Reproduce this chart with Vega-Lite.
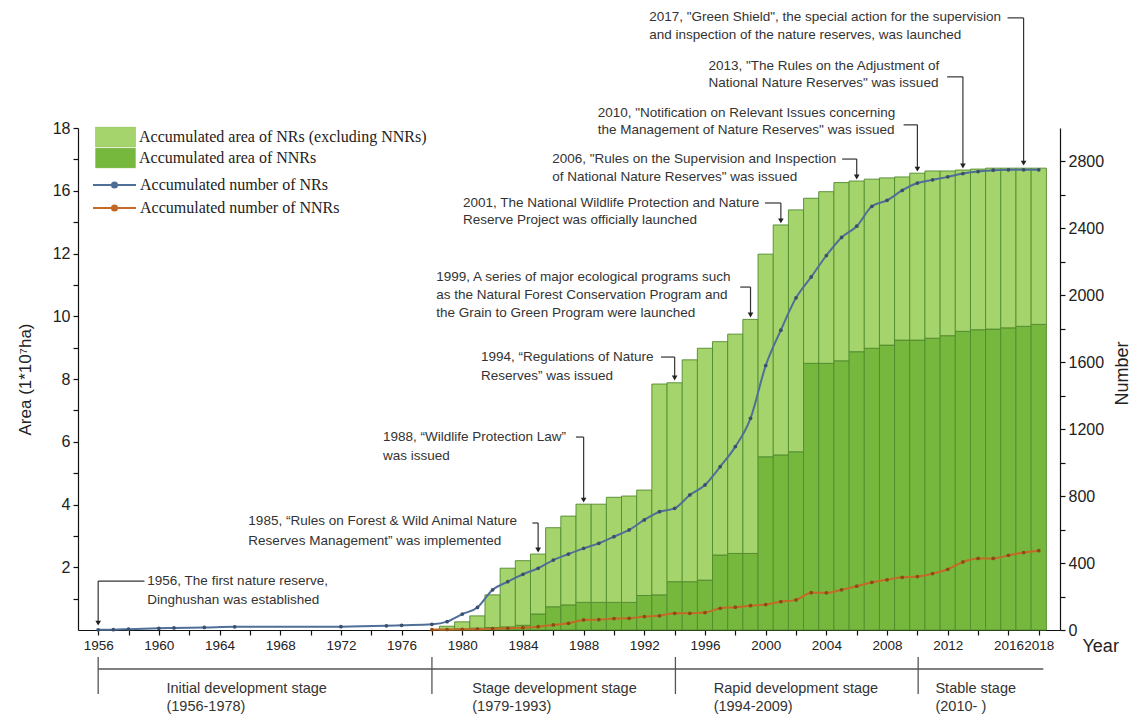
{
  "$schema": "https://vega.github.io/schema/vega-lite/v6.json",
  "width": 982,
  "height": 502,
  "autosize": {"type": "none"},
  "padding": {"left": 78, "top": 128, "right": 84, "bottom": 86},
  "background": "white",
  "config": {
    "view": {"stroke": null},
    "font": "Liberation Sans",
    "axis": {"grid": false, "domainColor": "#111", "tickColor": "#111", "labelColor": "#222", "titleColor": "#222", "labelFont": "Liberation Sans", "titleFont": "Liberation Sans", "titleFontWeight": "normal", "domainWidth": 1.2, "tickWidth": 1.2}
  },
  "datasets": {
    "area": [
      {"year": 1979, "series": "Accumulated area of NNRs", "area": 0.02}, {"year": 1979, "series": "Accumulated area of NRs (excluding NNRs)", "area": 0.10},
      {"year": 1980, "series": "Accumulated area of NNRs", "area": 0.04}, {"year": 1980, "series": "Accumulated area of NRs (excluding NNRs)", "area": 0.22},
      {"year": 1981, "series": "Accumulated area of NNRs", "area": 0.06}, {"year": 1981, "series": "Accumulated area of NRs (excluding NNRs)", "area": 0.39},
      {"year": 1982, "series": "Accumulated area of NNRs", "area": 0.08}, {"year": 1982, "series": "Accumulated area of NRs (excluding NNRs)", "area": 1.04},
      {"year": 1983, "series": "Accumulated area of NNRs", "area": 0.10}, {"year": 1983, "series": "Accumulated area of NRs (excluding NNRs)", "area": 1.87},
      {"year": 1984, "series": "Accumulated area of NNRs", "area": 0.15}, {"year": 1984, "series": "Accumulated area of NRs (excluding NNRs)", "area": 2.06},
      {"year": 1985, "series": "Accumulated area of NNRs", "area": 0.51}, {"year": 1985, "series": "Accumulated area of NRs (excluding NNRs)", "area": 1.91},
      {"year": 1986, "series": "Accumulated area of NNRs", "area": 0.74}, {"year": 1986, "series": "Accumulated area of NRs (excluding NNRs)", "area": 2.52},
      {"year": 1987, "series": "Accumulated area of NNRs", "area": 0.80}, {"year": 1987, "series": "Accumulated area of NRs (excluding NNRs)", "area": 2.83},
      {"year": 1988, "series": "Accumulated area of NNRs", "area": 0.88}, {"year": 1988, "series": "Accumulated area of NRs (excluding NNRs)", "area": 3.13},
      {"year": 1989, "series": "Accumulated area of NNRs", "area": 0.88}, {"year": 1989, "series": "Accumulated area of NRs (excluding NNRs)", "area": 3.13},
      {"year": 1990, "series": "Accumulated area of NNRs", "area": 0.88}, {"year": 1990, "series": "Accumulated area of NRs (excluding NNRs)", "area": 3.35},
      {"year": 1991, "series": "Accumulated area of NNRs", "area": 0.88}, {"year": 1991, "series": "Accumulated area of NRs (excluding NNRs)", "area": 3.39},
      {"year": 1992, "series": "Accumulated area of NNRs", "area": 1.10}, {"year": 1992, "series": "Accumulated area of NRs (excluding NNRs)", "area": 3.36},
      {"year": 1993, "series": "Accumulated area of NNRs", "area": 1.12}, {"year": 1993, "series": "Accumulated area of NRs (excluding NNRs)", "area": 6.72},
      {"year": 1994, "series": "Accumulated area of NNRs", "area": 1.54}, {"year": 1994, "series": "Accumulated area of NRs (excluding NNRs)", "area": 6.34},
      {"year": 1995, "series": "Accumulated area of NNRs", "area": 1.54}, {"year": 1995, "series": "Accumulated area of NRs (excluding NNRs)", "area": 7.07},
      {"year": 1996, "series": "Accumulated area of NNRs", "area": 1.59}, {"year": 1996, "series": "Accumulated area of NRs (excluding NNRs)", "area": 7.39},
      {"year": 1997, "series": "Accumulated area of NNRs", "area": 2.39}, {"year": 1997, "series": "Accumulated area of NRs (excluding NNRs)", "area": 6.80},
      {"year": 1998, "series": "Accumulated area of NNRs", "area": 2.44}, {"year": 1998, "series": "Accumulated area of NRs (excluding NNRs)", "area": 6.99},
      {"year": 1999, "series": "Accumulated area of NNRs", "area": 2.44}, {"year": 1999, "series": "Accumulated area of NRs (excluding NNRs)", "area": 7.46},
      {"year": 2000, "series": "Accumulated area of NNRs", "area": 5.52}, {"year": 2000, "series": "Accumulated area of NRs (excluding NNRs)", "area": 6.46},
      {"year": 2001, "series": "Accumulated area of NNRs", "area": 5.58}, {"year": 2001, "series": "Accumulated area of NRs (excluding NNRs)", "area": 7.33},
      {"year": 2002, "series": "Accumulated area of NNRs", "area": 5.68}, {"year": 2002, "series": "Accumulated area of NRs (excluding NNRs)", "area": 7.71},
      {"year": 2003, "series": "Accumulated area of NNRs", "area": 8.50}, {"year": 2003, "series": "Accumulated area of NRs (excluding NNRs)", "area": 5.26},
      {"year": 2004, "series": "Accumulated area of NNRs", "area": 8.50}, {"year": 2004, "series": "Accumulated area of NRs (excluding NNRs)", "area": 5.47},
      {"year": 2005, "series": "Accumulated area of NNRs", "area": 8.58}, {"year": 2005, "series": "Accumulated area of NRs (excluding NNRs)", "area": 5.68},
      {"year": 2006, "series": "Accumulated area of NNRs", "area": 8.87}, {"year": 2006, "series": "Accumulated area of NRs (excluding NNRs)", "area": 5.44},
      {"year": 2007, "series": "Accumulated area of NNRs", "area": 8.98}, {"year": 2007, "series": "Accumulated area of NRs (excluding NNRs)", "area": 5.39},
      {"year": 2008, "series": "Accumulated area of NNRs", "area": 9.08}, {"year": 2008, "series": "Accumulated area of NRs (excluding NNRs)", "area": 5.33},
      {"year": 2009, "series": "Accumulated area of NNRs", "area": 9.24}, {"year": 2009, "series": "Accumulated area of NRs (excluding NNRs)", "area": 5.20},
      {"year": 2010, "series": "Accumulated area of NNRs", "area": 9.24}, {"year": 2010, "series": "Accumulated area of NRs (excluding NNRs)", "area": 5.32},
      {"year": 2011, "series": "Accumulated area of NNRs", "area": 9.30}, {"year": 2011, "series": "Accumulated area of NRs (excluding NNRs)", "area": 5.33},
      {"year": 2012, "series": "Accumulated area of NNRs", "area": 9.38}, {"year": 2012, "series": "Accumulated area of NRs (excluding NNRs)", "area": 5.25},
      {"year": 2013, "series": "Accumulated area of NNRs", "area": 9.52}, {"year": 2013, "series": "Accumulated area of NRs (excluding NNRs)", "area": 5.14},
      {"year": 2014, "series": "Accumulated area of NNRs", "area": 9.57}, {"year": 2014, "series": "Accumulated area of NRs (excluding NNRs)", "area": 5.12},
      {"year": 2015, "series": "Accumulated area of NNRs", "area": 9.59}, {"year": 2015, "series": "Accumulated area of NRs (excluding NNRs)", "area": 5.13},
      {"year": 2016, "series": "Accumulated area of NNRs", "area": 9.63}, {"year": 2016, "series": "Accumulated area of NRs (excluding NNRs)", "area": 5.09},
      {"year": 2017, "series": "Accumulated area of NNRs", "area": 9.68}, {"year": 2017, "series": "Accumulated area of NRs (excluding NNRs)", "area": 5.04},
      {"year": 2018, "series": "Accumulated area of NNRs", "area": 9.74}, {"year": 2018, "series": "Accumulated area of NRs (excluding NNRs)", "area": 4.98}
    ],
    "count": [
      {"year": 1956, "series": "Accumulated number of NRs", "number": 1},
      {"year": 1957, "series": "Accumulated number of NRs", "number": 2},
      {"year": 1958, "series": "Accumulated number of NRs", "number": 5},
      {"year": 1960, "series": "Accumulated number of NRs", "number": 10},
      {"year": 1961, "series": "Accumulated number of NRs", "number": 12},
      {"year": 1963, "series": "Accumulated number of NRs", "number": 15},
      {"year": 1965, "series": "Accumulated number of NRs", "number": 19},
      {"year": 1972, "series": "Accumulated number of NRs", "number": 20},
      {"year": 1975, "series": "Accumulated number of NRs", "number": 25},
      {"year": 1976, "series": "Accumulated number of NRs", "number": 28},
      {"year": 1978, "series": "Accumulated number of NRs", "number": 34},
      {"year": 1979, "series": "Accumulated number of NRs", "number": 50},
      {"year": 1980, "series": "Accumulated number of NRs", "number": 95},
      {"year": 1981, "series": "Accumulated number of NRs", "number": 135},
      {"year": 1982, "series": "Accumulated number of NRs", "number": 240},
      {"year": 1983, "series": "Accumulated number of NRs", "number": 289},
      {"year": 1984, "series": "Accumulated number of NRs", "number": 333},
      {"year": 1985, "series": "Accumulated number of NRs", "number": 369},
      {"year": 1986, "series": "Accumulated number of NRs", "number": 418},
      {"year": 1987, "series": "Accumulated number of NRs", "number": 454},
      {"year": 1988, "series": "Accumulated number of NRs", "number": 488},
      {"year": 1989, "series": "Accumulated number of NRs", "number": 518},
      {"year": 1990, "series": "Accumulated number of NRs", "number": 558},
      {"year": 1991, "series": "Accumulated number of NRs", "number": 598},
      {"year": 1992, "series": "Accumulated number of NRs", "number": 658},
      {"year": 1993, "series": "Accumulated number of NRs", "number": 707},
      {"year": 1994, "series": "Accumulated number of NRs", "number": 727},
      {"year": 1995, "series": "Accumulated number of NRs", "number": 807},
      {"year": 1996, "series": "Accumulated number of NRs", "number": 867},
      {"year": 1997, "series": "Accumulated number of NRs", "number": 976},
      {"year": 1998, "series": "Accumulated number of NRs", "number": 1096},
      {"year": 1999, "series": "Accumulated number of NRs", "number": 1265},
      {"year": 2000, "series": "Accumulated number of NRs", "number": 1580},
      {"year": 2001, "series": "Accumulated number of NRs", "number": 1792},
      {"year": 2002, "series": "Accumulated number of NRs", "number": 1985},
      {"year": 2003, "series": "Accumulated number of NRs", "number": 2110},
      {"year": 2004, "series": "Accumulated number of NRs", "number": 2238},
      {"year": 2005, "series": "Accumulated number of NRs", "number": 2346},
      {"year": 2006, "series": "Accumulated number of NRs", "number": 2413},
      {"year": 2007, "series": "Accumulated number of NRs", "number": 2532},
      {"year": 2008, "series": "Accumulated number of NRs", "number": 2568},
      {"year": 2009, "series": "Accumulated number of NRs", "number": 2627},
      {"year": 2010, "series": "Accumulated number of NRs", "number": 2671},
      {"year": 2011, "series": "Accumulated number of NRs", "number": 2690},
      {"year": 2012, "series": "Accumulated number of NRs", "number": 2708},
      {"year": 2013, "series": "Accumulated number of NRs", "number": 2728},
      {"year": 2014, "series": "Accumulated number of NRs", "number": 2740},
      {"year": 2015, "series": "Accumulated number of NRs", "number": 2748},
      {"year": 2016, "series": "Accumulated number of NRs", "number": 2750},
      {"year": 2017, "series": "Accumulated number of NRs", "number": 2750},
      {"year": 2018, "series": "Accumulated number of NRs", "number": 2750},
      {"year": 1978, "series": "Accumulated number of NNRs", "number": 2},
      {"year": 1979, "series": "Accumulated number of NNRs", "number": 3},
      {"year": 1980, "series": "Accumulated number of NNRs", "number": 4},
      {"year": 1981, "series": "Accumulated number of NNRs", "number": 5},
      {"year": 1982, "series": "Accumulated number of NNRs", "number": 8},
      {"year": 1983, "series": "Accumulated number of NNRs", "number": 10},
      {"year": 1984, "series": "Accumulated number of NNRs", "number": 14},
      {"year": 1985, "series": "Accumulated number of NNRs", "number": 20},
      {"year": 1986, "series": "Accumulated number of NNRs", "number": 30},
      {"year": 1987, "series": "Accumulated number of NNRs", "number": 40},
      {"year": 1988, "series": "Accumulated number of NNRs", "number": 60},
      {"year": 1989, "series": "Accumulated number of NNRs", "number": 62},
      {"year": 1990, "series": "Accumulated number of NNRs", "number": 68},
      {"year": 1991, "series": "Accumulated number of NNRs", "number": 70},
      {"year": 1992, "series": "Accumulated number of NNRs", "number": 80},
      {"year": 1993, "series": "Accumulated number of NNRs", "number": 85},
      {"year": 1994, "series": "Accumulated number of NNRs", "number": 100},
      {"year": 1995, "series": "Accumulated number of NNRs", "number": 100},
      {"year": 1996, "series": "Accumulated number of NNRs", "number": 104},
      {"year": 1997, "series": "Accumulated number of NNRs", "number": 130},
      {"year": 1998, "series": "Accumulated number of NNRs", "number": 136},
      {"year": 1999, "series": "Accumulated number of NNRs", "number": 145},
      {"year": 2000, "series": "Accumulated number of NNRs", "number": 152},
      {"year": 2001, "series": "Accumulated number of NNRs", "number": 169},
      {"year": 2002, "series": "Accumulated number of NNRs", "number": 180},
      {"year": 2003, "series": "Accumulated number of NNRs", "number": 223},
      {"year": 2004, "series": "Accumulated number of NNRs", "number": 222},
      {"year": 2005, "series": "Accumulated number of NNRs", "number": 240},
      {"year": 2006, "series": "Accumulated number of NNRs", "number": 262},
      {"year": 2007, "series": "Accumulated number of NNRs", "number": 285},
      {"year": 2008, "series": "Accumulated number of NNRs", "number": 300},
      {"year": 2009, "series": "Accumulated number of NNRs", "number": 315},
      {"year": 2010, "series": "Accumulated number of NNRs", "number": 319},
      {"year": 2011, "series": "Accumulated number of NNRs", "number": 337},
      {"year": 2012, "series": "Accumulated number of NNRs", "number": 363},
      {"year": 2013, "series": "Accumulated number of NNRs", "number": 407},
      {"year": 2014, "series": "Accumulated number of NNRs", "number": 428},
      {"year": 2015, "series": "Accumulated number of NNRs", "number": 428},
      {"year": 2016, "series": "Accumulated number of NNRs", "number": 446},
      {"year": 2017, "series": "Accumulated number of NNRs", "number": 463},
      {"year": 2018, "series": "Accumulated number of NNRs", "number": 474}
    ],
    "events": [
      {"year": 1956, "xs": 1959.05, "yb": 1.56, "yt": 0.22},
      {"year": 1985, "xs": 1984.62, "yb": 3.41, "yt": 2.55},
      {"year": 1988, "xs": 1987.49, "yb": 6.15, "yt": 4.14},
      {"year": 1994, "xs": 1993.1, "yb": 8.70, "yt": 8.03},
      {"year": 1999, "xs": 1998.32, "yb": 10.93, "yt": 10.04},
      {"year": 2001, "xs": 1999.95, "yb": 13.61, "yt": 13.04},
      {"year": 2006, "xs": 2005.04, "yb": 15.01, "yt": 14.44},
      {"year": 2010, "xs": 2009.09, "yb": 16.10, "yt": 14.69},
      {"year": 2013, "xs": 2011.96, "yb": 17.63, "yt": 14.79},
      {"year": 2017, "xs": 2015.94, "yb": 19.51, "yt": 14.88}
    ],
    "notes": [
      {"x": 1959.24, "y": 1.56, "text": "1956, The first nature reserve,"},
      {"x": 1959.24, "y": 0.96, "text": "Dinghushan was established"},
      {"x": 1965.9, "y": 3.47, "text": "1985, “Rules on Forest & Wild Animal Nature"},
      {"x": 1965.9, "y": 2.84, "text": "Reserves Management” was implemented"},
      {"x": 1974.77, "y": 6.15, "text": "1988, “Wildlife Protection Law”"},
      {"x": 1974.77, "y": 5.55, "text": "was issued"},
      {"x": 1981.23, "y": 8.70, "text": "1994, “Regulations of Nature"},
      {"x": 1981.23, "y": 8.10, "text": "Reserves” was issued"},
      {"x": 1978.29, "y": 11.25, "text": "1999, A series of major ecological programs such"},
      {"x": 1978.29, "y": 10.68, "text": "as the Natural Forest Conservation Program and"},
      {"x": 1978.29, "y": 10.10, "text": "the Grain to Green Program were launched"},
      {"x": 1980.05, "y": 13.61, "text": "2001, The National Wildlife Protection and Nature"},
      {"x": 1980.05, "y": 13.07, "text": "Reserve Project was officially launched"},
      {"x": 1985.93, "y": 15.01, "text": "2006, \"Rules on the Supervision and Inspection"},
      {"x": 1985.93, "y": 14.44, "text": "of National Nature Reserves\"  was issued"},
      {"x": 1988.93, "y": 16.48, "text": "2010, \"Notification on Relevant Issues concerning"},
      {"x": 1988.93, "y": 15.94, "text": "the Management of Nature Reserves\"  was issued"},
      {"x": 1996.23, "y": 17.98, "text": "2013, \"The Rules on the Adjustment of"},
      {"x": 1996.23, "y": 17.43, "text": "National Nature Reserves\"  was issued"},
      {"x": 1992.32, "y": 19.54, "text": "2017, \"Green Shield\", the special action for the supervision"},
      {"x": 1992.32, "y": 18.96, "text": "and inspection of the nature reserves, was launched"}
    ],
    "stagelines": [
      {"x": 1956, "x2": 2018.3, "y": -1.243, "y2": -1.243},
      {"x": 1956, "x2": 1956, "y": -0.86, "y2": -2.04},
      {"x": 1978, "x2": 1978, "y": -0.86, "y2": -2.04},
      {"x": 1994.05, "x2": 1994.05, "y": -0.86, "y2": -2.04},
      {"x": 2010.05, "x2": 2010.05, "y": -0.86, "y2": -2.04}
    ],
    "stagetext": [
      {"x": 1960.5, "y": -1.88, "text": "Initial development stage"},
      {"x": 1960.5, "y": -2.45, "text": "(1956-1978)"},
      {"x": 1980.66, "y": -1.88, "text": "Stage development stage"},
      {"x": 1980.66, "y": -2.45, "text": "(1979-1993)"},
      {"x": 1996.57, "y": -1.88, "text": "Rapid development stage"},
      {"x": 1996.57, "y": -2.45, "text": "(1994-2009)"},
      {"x": 2011.19, "y": -1.88, "text": "Stable stage"},
      {"x": 2011.19, "y": -2.45, "text": "(2010- )"}
    ]
  },
  "layer": [
    {
      "layer": [
        {
          "data": {"name": "area"},
          "mark": {"type": "bar", "size": 15.3, "stroke": "#4f8a2c", "strokeWidth": 0.9},
          "encoding": {
            "x": {
              "field": "year", "type": "quantitative", "title": "Year",
              "scale": {"domain": [1955, 2019.07], "nice": false, "zero": false},
              "axis": {
                "values": [1956, 1958, 1960, 1962, 1964, 1966, 1968, 1970, 1972, 1974, 1976, 1978, 1980, 1982, 1984, 1986, 1988, 1990, 1992, 1994, 1996, 1998, 2000, 2002, 2004, 2006, 2008, 2010, 2012, 2014, 2016, 2018],
                "tickCount": 200,
                "labelExpr": "(datum.value - 1956) % 4 == 0 || datum.value == 2018 ? datum.label : ''",
                "format": "d", "tickSize": 5, "labelFontSize": 13.5, "labelPadding": 3,
                "labelOverlap": false, "labelFlush": false,
                "titleFontSize": 18, "titleX": 1004, "titleY": 16, "titleAlign": "left", "titleBaseline": "middle"
              }
            },
            "y": {
              "field": "area", "type": "quantitative", "stack": "zero", "title": "Area (1*10⁷ha)",
              "scale": {"domain": [0, 16], "nice": false, "zero": true},
              "axis": {
                "values": [1, 2, 3, 4, 5, 6, 7, 8, 9, 10, 11, 12, 13, 14, 15, 16],
                "tickCount": 200,
                "format": "d",
                "labelExpr": "datum.value % 2 == 1 ? '' : (datum.value == 14 ? '16' : (datum.value == 16 ? '18' : datum.label))",
                "labelOverlap": false,
                "tickSize": 5, "labelFontSize": 16, "labelPadding": 3, "titleFontSize": 17, "titlePadding": 18
              }
            },
            "fill": {
              "field": "series", "type": "nominal",
              "scale": {"domain": ["Accumulated area of NRs (excluding NNRs)", "Accumulated area of NNRs"], "range": ["#a6d46c", "#76b83e"]},
              "legend": {
                "orient": "none", "legendX": 17, "legendY": -1.5, "title": null, "padding": 0,
                "symbolType": "M-1,-0.5H1V0.5H-1Z", "symbolSize": 1600, "clipHeight": 21, "rowPadding": 0,
                "symbolStrokeColor": "#93c466", "symbolStrokeWidth": 0.6, "symbolOpacity": 1,
                "labelFont": "Liberation Serif", "labelFontSize": 16, "labelColor": "#222", "labelOffset": 3, "labelLimit": 400
              }
            },
            "order": {"field": "series", "sort": "ascending"}
          }
        },
        {
          "data": {"name": "events"},
          "mark": {"type": "rule", "color": "#333", "strokeWidth": 1.2},
          "encoding": {
            "x": {"field": "xs", "type": "quantitative", "title": "Year", "scale": {"domain": [1955, 2019.07], "nice": false, "zero": false}},
            "x2": {"field": "year"},
            "y": {"field": "yb", "type": "quantitative", "title": "Area (1*10⁷ha)", "scale": {"domain": [0, 16], "nice": false, "zero": true}}
          }
        },
        {
          "data": {"name": "events"},
          "mark": {"type": "rule", "color": "#333", "strokeWidth": 1.2},
          "encoding": {
            "x": {"field": "year", "type": "quantitative", "title": "Year", "scale": {"domain": [1955, 2019.07], "nice": false, "zero": false}},
            "y": {"field": "yb", "type": "quantitative", "title": "Area (1*10⁷ha)", "scale": {"domain": [0, 16], "nice": false, "zero": true}},
            "y2": {"field": "yt"}
          }
        },
        {
          "data": {"name": "events"},
          "mark": {"type": "point", "shape": "triangle-down", "filled": true, "color": "#222", "size": 32, "opacity": 1},
          "encoding": {
            "x": {"field": "year", "type": "quantitative", "title": "Year", "scale": {"domain": [1955, 2019.07], "nice": false, "zero": false}},
            "y": {"field": "yt", "type": "quantitative", "title": "Area (1*10⁷ha)", "scale": {"domain": [0, 16], "nice": false, "zero": true}}
          }
        },
        {
          "data": {"name": "notes"},
          "mark": {"type": "text", "align": "left", "baseline": "middle", "font": "Liberation Sans", "fontSize": 13.5, "color": "#333"},
          "encoding": {
            "x": {"field": "x", "type": "quantitative", "title": "Year", "scale": {"domain": [1955, 2019.07], "nice": false, "zero": false}},
            "y": {"field": "y", "type": "quantitative", "title": "Area (1*10⁷ha)", "scale": {"domain": [0, 16], "nice": false, "zero": true}},
            "text": {"field": "text"}
          }
        },
        {
          "data": {"name": "stagelines"},
          "mark": {"type": "rule", "color": "#555", "strokeWidth": 1.3},
          "encoding": {
            "x": {"field": "x", "type": "quantitative", "title": "Year", "scale": {"domain": [1955, 2019.07], "nice": false, "zero": false}},
            "x2": {"field": "x2"},
            "y": {"field": "y", "type": "quantitative", "title": "Area (1*10⁷ha)", "scale": {"domain": [0, 16], "nice": false, "zero": true}},
            "y2": {"field": "y2"}
          }
        },
        {
          "data": {"name": "stagetext"},
          "mark": {"type": "text", "align": "left", "baseline": "middle", "font": "Liberation Sans", "fontSize": 14.5, "color": "#333"},
          "encoding": {
            "x": {"field": "x", "type": "quantitative", "title": "Year", "scale": {"domain": [1955, 2019.07], "nice": false, "zero": false}},
            "y": {"field": "y", "type": "quantitative", "title": "Area (1*10⁷ha)", "scale": {"domain": [0, 16], "nice": false, "zero": true}},
            "text": {"field": "text"}
          }
        }
      ]
    },
    {
      "layer": [
        {
          "data": {"name": "count"},
          "mark": {"type": "line", "strokeWidth": 2, "interpolate": "monotone"},
          "encoding": {
            "x": {"field": "year", "type": "quantitative", "title": "Year", "scale": {"domain": [1955, 2019.07], "nice": false, "zero": false}},
            "y": {
              "field": "number", "type": "quantitative", "title": "Number",
              "scale": {"domain": [0, 3000], "nice": false, "zero": true},
              "axis": {
                "orient": "right",
                "values": [0, 200, 400, 600, 800, 1000, 1200, 1400, 1600, 1800, 2000, 2200, 2400, 2600, 2800],
                "tickCount": 200,
                "labelExpr": "datum.value % 400 == 0 ? datum.label : ''",
                "labelOverlap": false,
                "format": "d", "tickSize": 5, "labelFontSize": 16, "labelPadding": 3,
                "titleFontSize": 18, "titleAngle": 270, "titleX": 62, "titleY": 245, "titleAlign": "center", "titleBaseline": "middle"
              }
            },
            "stroke": {
              "field": "series", "type": "nominal",
              "scale": {"domain": ["Accumulated number of NRs", "Accumulated number of NNRs"], "range": ["#4f6f99", "#c46a26"]},
              "legend": {
                "orient": "none", "legendX": 14, "legendY": 45.5, "title": null, "padding": 0,
                "symbolType": "M-1,0H1M0.12,0A0.12,0.12,0,1,1,-0.12,0A0.12,0.12,0,1,1,0.12,0",
                "symbolSize": 1849, "symbolStrokeWidth": 2, "clipHeight": 23, "rowPadding": 0,
                "labelFont": "Liberation Serif", "labelFontSize": 16, "labelColor": "#222", "labelOffset": 3, "labelLimit": 400
              }
            }
          }
        },
        {
          "data": {"name": "count"},
          "mark": {"type": "circle", "size": 14, "opacity": 1},
          "encoding": {
            "x": {"field": "year", "type": "quantitative", "title": "Year", "scale": {"domain": [1955, 2019.07], "nice": false, "zero": false}},
            "y": {"field": "number", "type": "quantitative", "title": "Number", "scale": {"domain": [0, 3000], "nice": false, "zero": true}},
            "color": {
              "field": "series", "type": "nominal",
              "scale": {"domain": ["Accumulated number of NRs", "Accumulated number of NNRs"], "range": ["#3b4f6b", "#8e4a16"]},
              "legend": null
            }
          }
        }
      ]
    }
  ],
  "resolve": {"scale": {"y": "independent"}}
}
